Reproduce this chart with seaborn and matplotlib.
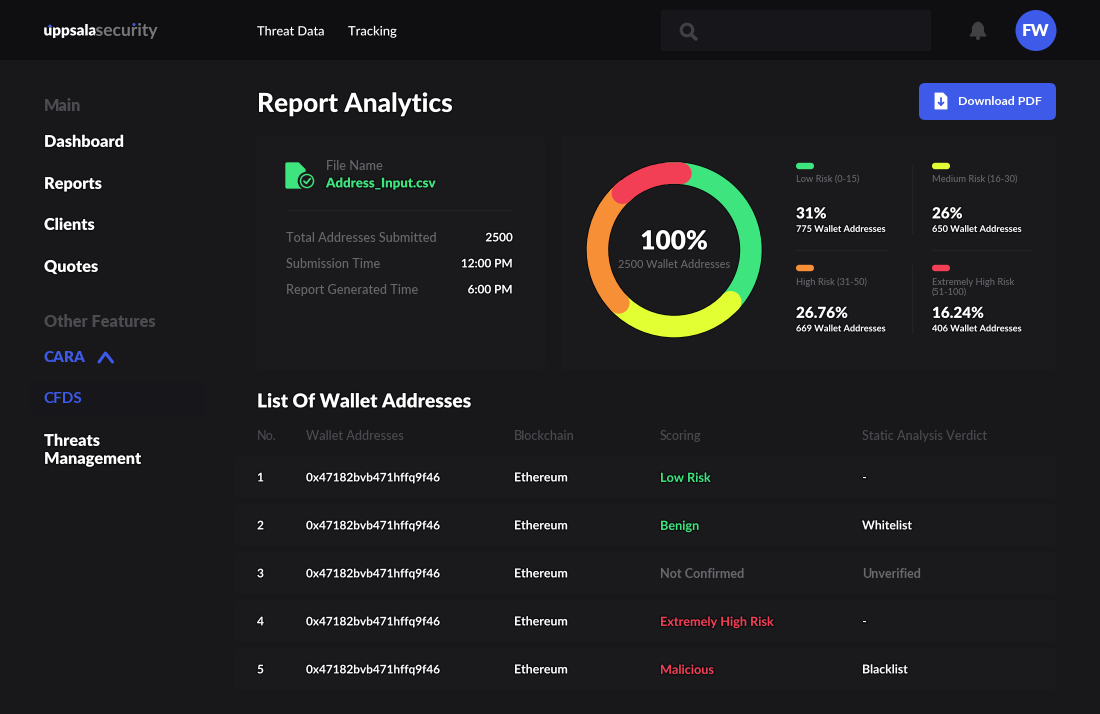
import numpy as np
import seaborn as sns
import matplotlib
matplotlib.use("Agg")
import matplotlib.pyplot as plt
from matplotlib.patches import FancyBboxPatch, Circle, Rectangle, Polygon
import matplotlib.patheffects as pe

# ---- data ----
risk_labels = ["Low Risk (0-15)", "Medium Risk (16-30)", "High Risk (31-50)", "Extremely High Risk\n(51-100)"]
risk_share = [31, 26, 26.76, 16.24]
risk_share_text = ["31%", "26%", "26.76%", "16.24%"]
risk_counts = [775, 650, 669, 406]
risk_colors = ["#3ee57f", "#e2ff33", "#f78f37", "#f33f55"]
nav_main = ["Dashboard", "Reports", "Clients", "Quotes"]
nav_main_y = [141, 183, 224, 266]
table_columns = ["No.", "Wallet Addresses", "Blockchain", "Scoring", "Static Analysis Verdict"]
row_numbers = ["1", "2", "3", "4", "5"]
row_wallets = ["0x47182bvb471hffq9f46"] * 5
row_chains = ["Ethereum"] * 5
row_scores = ["Low Risk", "Benign", "Not Confirmed", "Extremely High Risk", "Malicious"]
row_score_colors = ["#3ee57f", "#3ee57f", "#69686d", "#f33f55", "#f33f55"]
row_verdicts = ["-", "Whitelist", "Unverified", "-", "Blacklist"]
row_verdict_colors = ["#ffffff", "#ffffff", "#69686d", "#ffffff", "#ffffff"]
info_labels = ["Total Addresses Submitted", "Submission Time", "Report Generated Time"]
info_values = ["2500", "12:00 PM", "6:00 PM"]
total_wallets = 2500

BG = "#18171a"; HEAD = "#0f0e10"; CARD = "#1a191c"; BLUE = "#3d5ae8"
GREY = "#69686d"; DIM = "#4c4b50"; WHITE = "#ffffff"

sns.set_theme(style="dark", rc={"figure.facecolor": BG, "axes.facecolor": BG})
plt.rcParams["font.family"] = ["Lato", "DejaVu Sans"]

fig = plt.figure(figsize=(11, 7.14), dpi=100)
ax = fig.add_axes([0, 0, 1, 1])
ax.set_xlim(0, 1100); ax.set_ylim(714, 0); ax.axis("off")
halo = [pe.withStroke(linewidth=2.0, foreground="#0d0c0f", alpha=0.75)]


def T(x, y, s, size, color=WHITE, weight="bold", ha="left", shadow=True, **kw):
    return ax.text(x, y + 0.9, s, fontsize=size, color=color, fontweight=weight, ha=ha, va="center",
                   path_effects=halo if shadow else None, **kw)


def box(x0, y0, x1, y1, color, r=4, z=1):
    ax.add_patch(FancyBboxPatch((x0 + r, y0 + r), x1 - x0 - 2 * r, y1 - y0 - 2 * r,
                                boxstyle=f"round,pad={r},rounding_size={r}",
                                fc=color, ec="none", zorder=z))


# panels
ax.add_patch(Rectangle((0, 0), 1100, 60, fc=HEAD, ec="none", zorder=1))
box(661, 10, 931, 51, "#17161a", r=2, z=2)
box(256, 135, 545, 370, CARD, r=4)
box(561, 135, 1056, 370, CARD, r=4)

# logo + top nav
T(43.5, 30, "uppsala", 11.0, weight="heavy")
T(95.5, 30, "security", 12.6, color="#77767b", weight="bold")
ax.add_patch(Polygon([[47.5, 27], [50, 24], [52.5, 27]], fc=BLUE, ec="none", zorder=5))
ax.add_patch(Circle((134, 24.5), 1.5, fc=BLUE, ec="none", zorder=5))
T(257, 30.5, "Threat Data", 9.2, weight="medium")
T(348, 30.5, "Tracking", 9.3, weight="medium")

# search icon
ax.add_patch(Circle((687, 30), 5.8, fc="none", ec="#414044", lw=2.2, zorder=3))
ax.plot([691, 696], [34.5, 39], color="#414044", lw=2.6, solid_capstyle="round", zorder=3)
# bell
ax.add_patch(Polygon([[970, 36], [972.5, 32], [972.5, 27], [975, 23.5], [978, 22], [981, 23.5],
                      [983.5, 27], [983.5, 32], [986, 36]], fc="#414044", ec="#414044", lw=0.8, zorder=3))
ax.add_patch(Circle((978, 38), 2, fc="#414044", ec="none", zorder=3))
# avatar
ax.add_patch(Circle((1036, 30.5), 20.5, fc=BLUE, ec="none", zorder=3))
T(1036, 30.5, "FW", 12.2, ha="center", weight="heavy", shadow=False, zorder=4)

# sidebar
T(44, 105, "Main", 11.7, color=DIM, weight="heavy", shadow=False)
for label, y in zip(nav_main, nav_main_y):
    T(44, y, label, 11.7, weight="heavy")
T(44, 321, "Other Features", 11.7, color=DIM, weight="heavy", shadow=False)
T(44, 357, "CARA", 11, color=BLUE, weight="heavy", shadow=False)
ax.plot([99, 105.5, 112.5], [362, 353, 362], color=BLUE, lw=2.2, solid_capstyle="round", zorder=3)
box(30, 381, 205, 417, "#17161a", r=6)
T(43.5, 398, "CFDS", 11, color=BLUE, weight="bold", shadow=False, zorder=3)
T(44, 440, "Threats", 11.7, weight="heavy")
T(44, 458, "Management", 11.7, weight="heavy")

# header row
T(257, 103, "Report Analytics", 18.9, weight="black")
box(919, 83, 1056, 120, BLUE, r=6, z=2)
T(958, 101, "Download PDF", 8.9, weight="bold", shadow=False, zorder=4)
ax.add_patch(Polygon([[935, 93], [943, 93], [947, 97], [947, 109], [935, 109]], fc=WHITE, ec=WHITE,
                     lw=0.6, joinstyle="round", zorder=4))
ax.plot([941, 941], [98, 105], color=BLUE, lw=1.3, zorder=5)
ax.plot([938.5, 941, 943.5], [102.5, 105, 102.5], color=BLUE, lw=1.3, zorder=5)

# file card
ax.add_patch(Polygon([[287, 164], [298, 164], [304, 170], [304, 187], [287, 187]], fc="#3ee57f",
                     ec="#3ee57f", lw=2.4, joinstyle="round", zorder=3))
ax.add_patch(Circle((307, 181), 8.3, fc="#3ee57f", ec=CARD, lw=1.5, zorder=4))
ax.add_patch(Circle((307, 181), 5.8, fc=CARD, ec="none", zorder=5))
ax.plot([304, 306.3, 310.2], [181.2, 183.4, 178.7], color="#3ee57f", lw=1.3, zorder=6)
T(326, 165, "File Name", 9.2, color=GREY, weight="medium", shadow=False)
T(326, 182.5, "Address_Input.csv", 9.55, color="#3ee57f", weight="heavy")
ax.plot([287, 512], [209.5, 209.5], color="#232227", lw=1, zorder=3)
for i, (lab, val) in enumerate(zip(info_labels, info_values)):
    y = 237 + 26 * i
    T(286, y, lab, 9.1, color=GREY, weight="medium", shadow=False)
    T(512.5, y, val, 8.5, ha="right", weight="bold")

# donut: axes sized so radius 1 = 87.5 px
cx, cy, R, inner = 674.2, 249.8, 87.5, 66.0
dax = fig.add_axes([(cx - R) / 1100, 1 - (cy + R) / 714, 2 * R / 1100, 2 * R / 714])
dax.set_xlim(-1, 1); dax.set_ylim(-1, 1)
dax.patch.set_alpha(0); dax.set_zorder(3)
start_top_cw = 21.0          # clockwise from 12 o'clock
red_trim = 16.0              # red's rounded head stops short of the seam
red_lead = 5.0               # red's tail reaches a little back over the orange
wedges, _ = dax.pie(risk_share, colors=risk_colors, startangle=90 - start_top_cw, counterclock=False,
                    radius=1, wedgeprops=dict(width=1 - inner / R, linewidth=0), frame=False)
dax.set_xlim(-1, 1); dax.set_ylim(-1, 1)
mid = (1 + inner / R) / 2
tube = (1 - inner / R) / 2
# dark rim round the ring
dax.add_patch(Circle((0, 0), 1.0, fc="none", ec="#08070a", lw=1.2, zorder=0.5, clip_on=False))
dax.add_patch(Circle((0, 0), inner / R, fc="none", ec="#08070a", lw=1.2, zorder=0.5))
# green runs on beneath the red head
wedges[0].set_theta2(wedges[0].theta2 + red_trim + 12)
wedges[0].set_zorder(1)
wedges[3].set_theta2(wedges[3].theta2 + red_lead)
for k, w in enumerate(wedges[1:], start=1):
    w.set_zorder(2 + k)
    a = np.deg2rad(w.theta2)          # leading (clockwise-start) edge
    dax.add_patch(Circle((mid * np.cos(a), mid * np.sin(a)), tube, fc=risk_colors[k], ec="none", zorder=2 + k))
wedges[3].set_theta1(wedges[3].theta1 + red_trim)
a = np.deg2rad(wedges[3].theta1)
dax.add_patch(Circle((mid * np.cos(a), mid * np.sin(a)), tube, fc=risk_colors[3], ec="none", zorder=6))

T(674, 240.5, "100%", 18.9, ha="center", weight="heavy")
T(674, 263.5, f"{total_wallets} Wallet Addresses", 7.8, color=GREY, ha="center", weight="medium", shadow=False)

# legend
xs = [796, 932, 796, 932]
pill_y = [166, 166, 268, 268]
label_y = [179, 179, 281, 286.5]
pct_y = [213, 213, 312.5, 312.5]
cnt_y = [228.5, 228.5, 328, 328]
for i in range(4):
    box(xs[i], pill_y[i] - 3.2, xs[i] + 18, pill_y[i] + 3.2, risk_colors[i], r=3.1, z=3)
    T(xs[i], label_y[i], risk_labels[i], 6.7, color=GREY, weight="medium", shadow=False, linespacing=1.25)
    T(xs[i], pct_y[i], risk_share_text[i], 11, weight="heavy")
    T(xs[i], cnt_y[i], f"{risk_counts[i]} Wallet Addresses", 6.6, weight="bold")
for y0, y1 in [(165, 233), (265, 333)]:
    ax.plot([912, 912], [y0, y1], color="#232227", lw=1, zorder=3)
ax.plot([795, 888], [249.5, 249.5], color="#232227", lw=1, zorder=3)
ax.plot([932, 1030], [249.5, 249.5], color="#232227", lw=1, zorder=3)

# table
T(257, 401, "List Of Wallet Addresses", 13.8, weight="heavy")
col_x = [257, 306, 514, 660, 862]
for x, c in zip(col_x, table_columns):
    T(x, 435, c, 9.1, color=DIM, weight="medium", shadow=False)
for i in range(5):
    y = 477 + 48 * i
    box(234, y - 21, 1056, y + 21, CARD, r=5)
    T(col_x[0], y, row_numbers[i], 8.6)
    T(col_x[1], y, row_wallets[i], 8.5)
    T(col_x[2], y, row_chains[i], 8.9)
    T(col_x[3], y, row_scores[i], 9.1, color=row_score_colors[i], shadow=row_scores[i] != "Not Confirmed")
    T(col_x[4], y, row_verdicts[i], 9.0 if row_verdicts[i] == "Unverified" else 8.8,
      color=row_verdict_colors[i], shadow=row_verdicts[i] != "Unverified")

fig.savefig("out.png", dpi=100, facecolor=BG)
